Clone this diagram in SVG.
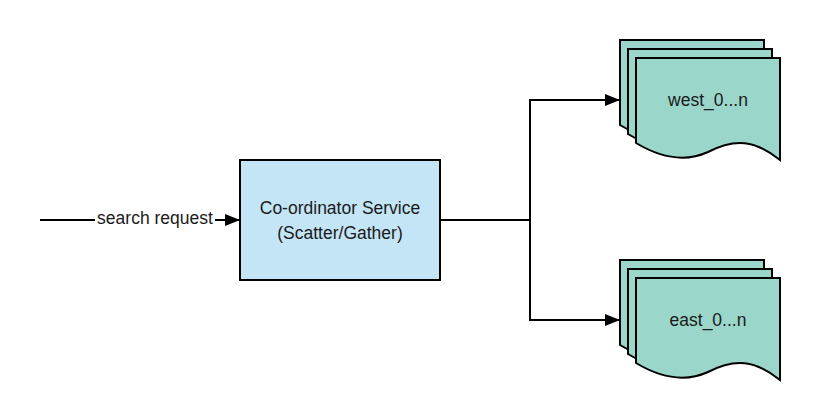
<svg xmlns="http://www.w3.org/2000/svg" width="820" height="420" viewBox="0 0 820 420">
<defs>
<marker id="arr" markerUnits="userSpaceOnUse" markerWidth="15" markerHeight="12" refX="15" refY="6" orient="auto">
<path d="M0,0 L15,6 L0,12 z" fill="#000"/>
</marker>
<path id="doc" d="M0,0 H144 V102 C119,82 99,80 72,94 C50,104 25,100 0,85 Z"/>
</defs>
<style>
.lbl{font-family:"Liberation Sans",Arial,sans-serif;font-size:17.5px;fill:#1a1a1a}
.conn{fill:none;stroke:#000;stroke-width:2}
.sheet{fill:#9AD6CA;stroke:#000;stroke-width:2}
.box{fill:#C3E5F6;stroke:#000;stroke-width:2}
</style>
<rect width="820" height="420" fill="#fff"/>
<g id="connectors">
<path class="conn" d="M40,220 H95"/>
<path class="conn" d="M215,220 H240" marker-end="url(#arr)"/>
<text class="lbl" x="155" y="224" text-anchor="middle">search request</text>
<path class="conn" d="M440,220 H530 V100 H620" marker-end="url(#arr)"/>
<path class="conn" d="M530,220 V320 H620" marker-end="url(#arr)"/>
</g>
<g id="coordinator">
<rect class="box" x="240" y="160" width="200" height="120"/>
<text class="lbl" x="340" y="214" text-anchor="middle">Co-ordinator Service</text>
<text class="lbl" x="340" y="239" text-anchor="middle">(Scatter/Gather)</text>
</g>
<g id="west">
<use href="#doc" class="sheet" x="620" y="40"/>
<use href="#doc" class="sheet" x="628" y="49"/>
<use href="#doc" class="sheet" x="636" y="58"/>
<text class="lbl" x="708" y="106" text-anchor="middle">west_0...n</text>
</g>
<g id="east">
<use href="#doc" class="sheet" x="620" y="260"/>
<use href="#doc" class="sheet" x="628" y="269"/>
<use href="#doc" class="sheet" x="636" y="278"/>
<text class="lbl" x="708" y="326" text-anchor="middle">east_0...n</text>
</g>
</svg>
